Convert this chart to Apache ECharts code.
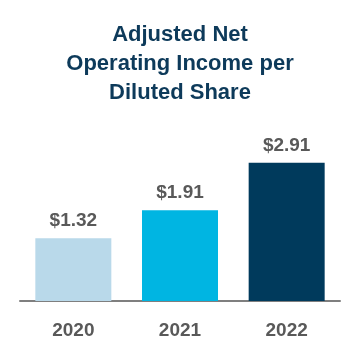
<!DOCTYPE html>
<html>
<head>
<meta charset="utf-8">
<script src="https://cdn.jsdelivr.net/npm/echarts@6/dist/echarts.min.js"></script>
<style>html,body{margin:0;padding:0;background:#fff;}#c{width:360px;height:360px;}</style>
</head>
<body>
<div id="c"></div>
<script>
var titleText = "Adjusted Net\nOperating Income per\nDiluted Share";
var categories = ["2020", "2021", "2022"];
var values = [1.32, 1.91, 2.91];
var barColors = ["#b9d9ea", "#00b5e2", "#003a5c"];

var chart = echarts.init(document.getElementById('c'));
chart.setOption({
  animation: false,
  title: {
    text: titleText,
    left: 'center',
    top: 15,
    textStyle: {
      fontFamily: 'Liberation Sans, Arial, sans-serif',
      fontWeight: 'bold',
      fontSize: 22,
      lineHeight: 29,
      color: '#0d3a5a'
    }
  },
  grid: { left: 20, right: 20, top: 158.5, bottom: 59, containLabel: false },
  xAxis: {
    type: 'category',
    data: categories,
    axisLine: { lineStyle: { color: '#7f7f7f', width: 2 } },
    axisTick: { show: false },
    axisLabel: {
      margin: 20,
      fontFamily: 'Liberation Sans, Arial, sans-serif',
      fontWeight: 'bold',
      fontSize: 19,
      color: '#595959'
    }
  },
  yAxis: {
    type: 'value',
    min: 0, max: 3,
    show: false,
    splitLine: { show: false }
  },
  series: [{
    type: 'bar',
    barWidth: 76,
    data: values.map(function (v, i) { return { value: v, itemStyle: { color: barColors[i] } }; }),
    label: {
      show: true,
      position: 'top',
      distance: 8,
      formatter: function (p) { return '$' + p.value.toFixed(2); },
      fontFamily: 'Liberation Sans, Arial, sans-serif',
      fontWeight: 'bold',
      fontSize: 19,
      color: '#595959'
    }
  }]
});
</script>
</body>
</html>
